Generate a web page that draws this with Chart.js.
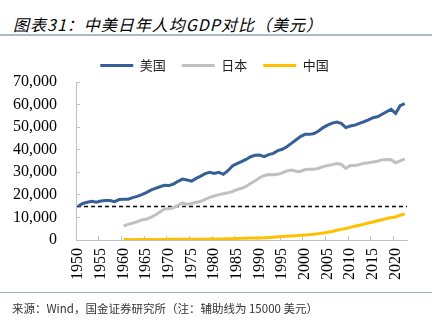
<!DOCTYPE html>
<html>
<head>
<meta charset="utf-8">
<script src="https://cdn.jsdelivr.net/npm/chart.js@4"></script>
<style>
  body { margin: 0; background: #fff; }
  #wrap { position: relative; width: 439px; height: 326px; overflow: hidden; }
  #title { position: absolute; left: 13px; top: 12px; font: italic 16px "Noto Sans CJK SC", sans-serif; color: #000; letter-spacing: 1px; white-space: nowrap; }
  #topLine { position: absolute; left: 0; top: 34px; width: 432px; height: 2px; background: #a9bccb; }
  #bottomLine { position: absolute; left: 0; top: 292px; width: 432px; height: 1px; background: #9fb3c4; }
  #source { position: absolute; left: 12px; top: 300px; font: 11.5px "Noto Sans CJK SC", sans-serif; color: #333; white-space: nowrap; }
  canvas { position: absolute; left: 0; top: 0; }
</style>
</head>
<body>
<div id="wrap">
  <div id="title">图表31：中美日年人均GDP对比（美元）</div>
  <div id="topLine"></div>
  <canvas id="gdpChart" width="439" height="326"></canvas>
  <div id="bottomLine"></div>
  <div id="source">来源：Wind，国金证券研究所（注：辅助线为 15000 美元）</div>
</div>
<script>
// GDP per capita, USD
const years = [];
for (let y = 1950; y <= 2022; y++) years.push(y);

const usData = [
  15000, 16200, 16700, 17100, 16700, 17300, 17500, 17500, 17000, 17900,
  18000, 18100, 18800, 19300, 20100, 21000, 22100, 22900, 23600, 24200,
  24100, 24800, 26000, 27000, 26600, 26100, 27300, 28300, 29400, 30000,
  29500, 30000, 29100, 30700, 32800, 33800, 34700, 35700, 36900, 37500,
  37600, 36900, 37800, 38400, 39600, 40200, 41300, 42800, 44300, 45800,
  46800, 46800, 47200, 48300, 49800, 50900, 51800, 52300, 51700, 49800,
  50500, 50900, 51700, 52400, 53200, 54200, 54600, 55700, 56800, 57900,
  56100, 59500, 60400
];

const japanData = [
  null, null, null, null, null, null, null, null, null, null,
  6200, 6900, 7500, 8100, 8900, 9200, 10000, 11100, 12400, 13700,
  14000, 14300, 15400, 16400, 15900, 16200, 16700, 17100, 18000, 18900,
  19500, 20100, 20500, 20900, 21500, 22300, 22900, 23700, 25000, 26200,
  27600, 28600, 29000, 28900, 29100, 29700, 30600, 31000, 30500, 30400,
  31200, 31300, 31300, 31800, 32500, 33000, 33400, 33900, 33500, 31700,
  33000, 33000, 33400, 34000, 34200, 34600, 34900, 35500, 35700, 35600,
  34200, 35100, 35900
];

const chinaData = [
  null, null, null, null, null, null, null, null, null, null,
  220, 170, 160, 175, 200, 230, 250, 230, 220, 250,
  285, 295, 300, 320, 320, 340, 330, 350, 380, 405,
  430, 450, 485, 530, 600, 670, 720, 790, 870, 900,
  920, 990, 1120, 1260, 1410, 1550, 1680, 1810, 1930, 2060,
  2210, 2380, 2580, 2820, 3080, 3400, 3800, 4300, 4700, 5100,
  5600, 6100, 6550, 7000, 7500, 8000, 8500, 9000, 9500, 10000,
  10200, 11000, 11500
];

const refLine = 15000;   // 辅助线
const labelStep = 5;     // one axis label every 5 years

function toPoints(values) {
  return years.map((yr, i) => ({ x: yr, y: values[i] }));
}

// dashed helper line at 15000
const refLinePlugin = {
  id: 'refLine',
  beforeDatasetsDraw(chart) {
    const { ctx, chartArea, scales } = chart;
    const y = Math.round(scales.y.getPixelForValue(refLine)) + 0.5;
    ctx.save();
    ctx.strokeStyle = '#000';
    ctx.lineWidth = 1.5;
    ctx.setLineDash([4, 3]);
    ctx.beginPath();
    ctx.moveTo(chartArea.left + 1, y);
    ctx.lineTo(chartArea.right, y);
    ctx.stroke();
    ctx.restore();
  }
};

// nudge the legend a bit to the right, like the original
const legendShift = {
  id: 'legendShift',
  afterLayout(chart) {
    chart.legend.left += 11;
    chart.legend.right += 11;
  }
};

const serif = { family: '"Liberation Serif", "Times New Roman", serif', size: 16 };

const ctx = document.getElementById('gdpChart').getContext('2d');
const gdpChart = new Chart(ctx, {
  type: 'line',
  data: {
    datasets: [{
      label: '美国',
      data: toPoints(usData),
      borderColor: '#365f96',
      backgroundColor: '#365f96',
      borderWidth: 3
    }, {
      label: '日本',
      data: toPoints(japanData),
      borderColor: '#c0c0c0',
      backgroundColor: '#c0c0c0',
      borderWidth: 3
    }, {
      label: '中国',
      data: toPoints(chinaData),
      borderColor: '#ffc000',
      backgroundColor: '#ffc000',
      borderWidth: 3
    }]
  },
  options: {
    responsive: false,
    animation: false,
    spanGaps: false,
    elements: {
      point: { radius: 0 },
      line: { tension: 0 }
    },
    layout: {
      padding: { left: 0, right: 32, top: 43, bottom: 36 }
    },
    scales: {
      x: {
        type: 'linear',
        min: years[0] - 0.5,
        max: years[years.length - 1] + 0.5,
        afterBuildTicks: (axis) => {
          const ticks = [];
          for (let y = years[0]; y <= years[years.length - 1]; y += labelStep) {
            ticks.push({ value: y - 0.5 });
          }
          axis.ticks = ticks;
        },
        afterFit: (axis) => { axis.height = 50; },
        grid: {
          drawOnChartArea: false,
          tickLength: -4,
          tickColor: '#bfbfbf'
        },
        border: { color: '#bfbfbf', width: 1 },
        ticks: {
          minRotation: 90,
          maxRotation: 90,
          padding: 12,
          labelOffset: 2,
          color: '#000',
          font: serif,
          callback: (v) => String(Math.round(v + 0.5))
        }
      },
      y: {
        min: 0,
        max: 70000,
        afterFit: (axis) => { axis.width = 76; },
        grid: {
          drawOnChartArea: false,
          tickLength: -4,
          tickColor: '#bfbfbf'
        },
        border: { color: '#bfbfbf', width: 1 },
        ticks: {
          stepSize: 10000,
          padding: 23,
          color: '#000',
          font: serif,
          callback: (v) => v.toLocaleString('en-US')
        }
      }
    },
    plugins: {
      legend: {
        position: 'top',
        labels: {
          usePointStyle: true,
          pointStyle: 'line',
          pointStyleWidth: 33,
          padding: 16,
          color: '#222',
          font: { family: '"Noto Sans CJK SC", sans-serif', size: 13 }
        }
      },
      tooltip: { enabled: false }
    }
  },
  plugins: [refLinePlugin, legendShift]
});
</script>
</body>
</html>
